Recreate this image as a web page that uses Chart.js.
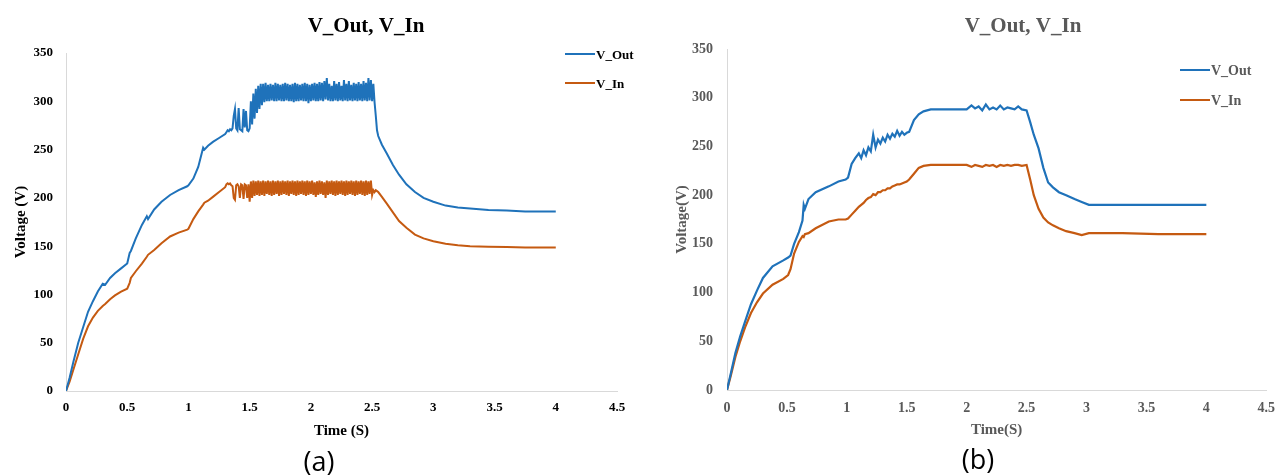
<!DOCTYPE html>
<html>
<head>
<meta charset="utf-8">
<script src="https://cdn.jsdelivr.net/npm/chart.js@4/dist/chart.umd.min.js"></script>
<style>
  body { margin: 0; background: #fff; width: 1285px; height: 476px; overflow: hidden; position: relative; }
  .panel { position: absolute; top: 0; height: 476px; }
  #pa { left: 0; width: 645px; }
  #pb { left: 645px; width: 640px; }
</style>
</head>
<body>
<div class="panel" id="pa"><canvas id="chartA"></canvas></div>
<div class="panel" id="pb"><canvas id="chartB"></canvas></div>
<script>
// ---- panel (a) ----
const tA = [
  0, 0.03, 0.06, 0.1, 0.14, 0.18, 0.22, 0.26, 0.3, 0.32, 0.36, 0.4, 0.45, 0.5, 0.52, 0.53, 0.57,
  0.62, 0.66, 0.67, 0.72, 0.78, 0.85, 0.92, 0.99, 1.0, 1.04, 1.08, 1.12, 1.13, 1.16, 1.2, 1.25, 1.3,
  1.31, 1.32, 1.33, 1.34, 1.35, 1.36, 1.37, 1.38, 1.39, 1.40,
  1.41, 1.42, 1.43, 1.44, 1.45, 1.46, 1.47, 1.48, 1.49, 1.50,
  1.51, 1.52, 1.53, 1.54, 1.55, 1.56, 1.57, 1.58, 1.59, 1.60,
  1.61, 1.62, 1.63, 1.64, 1.65, 1.66, 1.67, 1.68, 1.69, 1.70,
  1.71, 1.72, 1.73, 1.74, 1.75, 1.76, 1.77, 1.78, 1.79, 1.80,
  1.81, 1.82, 1.83, 1.84, 1.85, 1.86, 1.87, 1.88, 1.89, 1.90,
  1.91, 1.92, 1.93, 1.94, 1.95, 1.96, 1.97, 1.98, 1.99, 2.00,
  2.01, 2.02, 2.03, 2.04, 2.05, 2.06, 2.07, 2.08, 2.09, 2.10,
  2.11, 2.12, 2.13, 2.14, 2.15, 2.16, 2.17, 2.18, 2.19, 2.20,
  2.21, 2.22, 2.23, 2.24, 2.25, 2.26, 2.27, 2.28, 2.29, 2.30,
  2.31, 2.32, 2.33, 2.34, 2.35, 2.36, 2.37, 2.38, 2.39, 2.40,
  2.41, 2.42, 2.43, 2.44, 2.45, 2.46, 2.47, 2.48, 2.49, 2.50,
  2.51, 2.52, 2.53, 2.54, 2.55,
  2.58, 2.62, 2.67, 2.72, 2.78, 2.85, 2.92, 3.0, 3.1, 3.2, 3.3, 3.45, 3.6, 3.75, 3.9, 4.0
];
const vOutA = [
  0, 14, 30, 50, 66, 82, 93, 103, 111, 110, 117, 122, 127, 132, 143, 145, 158,
  172, 181, 178, 188, 196, 203, 208, 212, 213, 220, 232, 252, 250, 254, 258, 262, 266,
  268, 270, 269, 271, 270, 272, 285, 292, 272, 270,
  293, 271, 270, 269, 292, 273, 290, 270, 269, 272,
  300, 276, 308, 282, 313, 288, 316, 292, 318, 296,
  318, 299, 319, 300, 317, 300, 318, 301, 317, 300,
  319, 300, 318, 301, 317, 300, 318, 300, 319, 301,
  318, 300, 317, 300, 318, 299, 319, 300, 318, 300,
  317, 301, 318, 300, 319, 300, 318, 298, 317, 300,
  318, 301, 319, 300, 318, 300, 320, 301, 319, 300,
  321, 302, 324, 301, 318, 300, 316, 300, 321, 301,
  318, 300, 320, 301, 316, 300, 322, 301, 318, 300,
  321, 301, 317, 300, 319, 301, 318, 300, 320, 301,
  318, 300, 321, 301, 319, 300, 324, 301, 322, 300,
  318, 299, 285, 270, 264,
  255, 246, 234, 224, 214, 206, 200, 196, 192, 190, 189, 187.5, 187, 186, 186, 186
];
const vInA = [
  0, 10, 22, 38, 54, 67, 76, 83, 88, 90, 95, 99, 103, 106, 112, 117, 124,
  132, 139, 141, 146, 153, 160, 164, 167, 168, 178, 186, 193, 195, 197, 201, 206, 211,
  214, 215, 214, 215, 213, 212, 200, 198, 213, 214,
  212, 200, 214, 213, 199, 214, 213, 200, 214, 196,
  217, 200, 218, 202, 217, 203, 218, 202, 217, 203,
  218, 202, 217, 204, 218, 203, 217, 202, 218, 203,
  217, 204, 218, 202, 217, 203, 218, 204, 217, 203,
  218, 202, 217, 204, 218, 203, 217, 202, 218, 203,
  217, 204, 218, 203, 217, 202, 218, 203, 217, 204,
  218, 203, 216, 201, 217, 203, 218, 204, 217, 203,
  216, 200, 218, 203, 217, 204, 218, 203, 217, 202,
  218, 203, 217, 204, 218, 203, 217, 202, 218, 203,
  217, 204, 218, 203, 217, 202, 218, 203, 217, 204,
  218, 203, 217, 202, 218, 203, 217, 204, 218, 203,
  208, 206, 208, 207, 206,
  201, 194, 185, 176, 169, 162, 158, 155, 152.5, 151, 150, 149.5, 149, 148.7, 148.5, 148.5
];

// ---- panel (b) ----
const tB = [
  0, 0.03, 0.07, 0.11, 0.15, 0.2, 0.25, 0.3, 0.38, 0.47, 0.51, 0.53, 0.56, 0.6, 0.63, 0.64, 0.65,
  0.68, 0.74, 0.85, 0.93, 0.99, 1.01, 1.04, 1.07, 1.1,
  1.12, 1.14, 1.16, 1.18, 1.20, 1.22, 1.24, 1.26, 1.28, 1.30,
  1.32, 1.34, 1.36, 1.38, 1.40, 1.42, 1.44, 1.46, 1.48, 1.50, 1.52,
  1.56, 1.6, 1.64, 1.7, 1.8, 1.9, 2.0,
  2.04, 2.07, 2.1, 2.13, 2.16, 2.19, 2.22, 2.25, 2.28, 2.31,
  2.34, 2.37, 2.4, 2.43, 2.46, 2.5,
  2.53, 2.56, 2.6, 2.64, 2.68, 2.72, 2.77, 2.83, 2.9, 2.96,
  3.02, 3.3, 3.6, 3.8, 4.0
];
const vOutB = [
  0, 16, 38, 55, 70, 88, 102, 115, 127, 133, 136, 138, 150, 162, 174, 190, 186,
  196, 203, 209, 214, 216, 218, 232, 238, 243,
  238, 246, 241, 249, 245, 262, 249, 257, 253, 259,
  255, 262, 258, 263, 260, 266, 261, 265, 262, 264, 265,
  277, 283, 286, 288, 288, 288, 288,
  292, 289, 291, 287, 293, 288, 290, 288, 292, 288,
  290, 289, 288, 291, 288, 287,
  275, 262, 248, 228, 213, 208, 203, 200, 196, 193,
  190, 190, 190, 190, 190
];
const vInB = [
  0, 14, 34, 50, 64, 79, 90, 99, 108, 114, 118, 124, 140, 152, 158, 157, 160,
  161, 166, 173, 175, 175, 176, 180, 184, 188,
  190, 192, 195, 197, 198, 201, 200, 203, 203, 205,
  205, 207, 207, 209, 210, 211, 211, 212, 213, 214, 216,
  222, 228, 230, 231, 231, 231, 231,
  229, 231, 230, 229, 231, 230, 231, 229, 231, 230,
  231, 230, 231, 231, 230, 231,
  216, 200, 186, 177, 172, 169, 166, 163, 161, 159,
  161, 161, 160, 160, 160
];

const seriesNames = ["V_Out", "V_In"];
const titleText = "V_Out, V_In";
const yTitles = ["Voltage (V)", "Voltage(V)"];
const xTitles = ["Time (S)", "Time(S)"];
const captions = ["(a)", "(b)"];

const BLUE = "#1f72ba";
const ORANGE = "#c55a11";
const SERIF = "'Liberation Serif', 'Times New Roman', serif";

// title, legend and caption drawn on top of the chart
const decor = {
  id: "decor",
  afterDraw(chart, args, o) {
    const ctx = chart.ctx;
    ctx.save();
    ctx.textBaseline = "alphabetic";
    ctx.fillStyle = o.color;
    ctx.textAlign = "center";
    ctx.font = "bold 21px " + SERIF;
    ctx.fillText(o.title, o.titleX, o.titleY);

    ctx.textAlign = "left";
    ctx.font = "bold " + o.legendSize + "px " + SERIF;
    chart.data.datasets.forEach((ds, i) => {
      const y = o.legendY[i];
      ctx.strokeStyle = ds.borderColor;
      ctx.lineWidth = 2;
      ctx.beginPath();
      ctx.moveTo(o.legendX, y);
      ctx.lineTo(o.legendX + 30, y);
      ctx.stroke();
      ctx.fillText(ds.label, o.legendX + 31, y + 5);
    });

    ctx.fillStyle = "#000";
    ctx.textAlign = "center";
    ctx.font = "27px 'Open Sans', sans-serif";
    ctx.fillText(o.caption, o.captionX, o.captionY);
    ctx.restore();
  }
};

function makePanel(id, t, out, inn, c) {
  new Chart(document.getElementById(id), {
    type: "line",
    data: {
      datasets: [
        { label: seriesNames[0], data: t.map((x, i) => ({ x, y: out[i] })), borderColor: BLUE, borderWidth: c.lw },
        { label: seriesNames[1], data: t.map((x, i) => ({ x, y: inn[i] })), borderColor: ORANGE, borderWidth: c.lw }
      ]
    },
    options: {
      responsive: true,
      maintainAspectRatio: false,
      animation: false,
      events: [],
      elements: { point: { radius: 0 }, line: { tension: 0 } },
      layout: { padding: { top: c.top, right: c.right, bottom: 0, left: 0 } },
      plugins: {
        legend: { display: false },
        tooltip: { enabled: false },
        decor: c.decor
      },
      scales: {
        x: {
          type: "linear", min: 0, max: 4.5,
          afterFit: s => { s.height = c.xHeight; },
          grid: { display: false, drawTicks: false },
          border: { color: "#d9d9d9", width: 1 },
          ticks: { stepSize: 0.5, padding: c.xPad, color: c.color, callback: v => String(v),
                   font: { family: SERIF, size: c.tick, weight: "bold" } },
          title: { display: true, text: c.xTitle, color: c.color, padding: { top: 0, bottom: c.xTitlePad }, font: { family: SERIF, size: 15, weight: "bold" } }
        },
        y: {
          min: 0, max: 350,
          afterFit: s => { s.width = c.yWidth; },
          grid: { display: false, drawTicks: false },
          border: { color: "#d9d9d9", width: 1 },
          ticks: { stepSize: 50, padding: c.yPad, color: c.color, font: { family: SERIF, size: c.tick, weight: "bold" } },
          title: { display: true, text: c.yTitle, color: c.color, padding: { top: c.yTitlePad, bottom: 0 }, font: { family: SERIF, size: 15, weight: "bold" } }
        }
      }
    },
    plugins: [decor]
  });
}

makePanel("chartA", tA, vOutA, vInA, {
  lw: 2, top: 53, right: 28, xHeight: 85, yWidth: 66, xPad: 9, yPad: 13, tick: 13,
  color: "#000", xTitle: xTitles[0], yTitle: yTitles[0], xTitlePad: 36, yTitlePad: 12,
  decor: {
    color: "#000", title: titleText, titleX: 366, titleY: 32,
    legendX: 565, legendY: [54, 83], legendSize: 13,
    caption: captions[0], captionX: 319, captionY: 471
  }
});

makePanel("chartB", tB, vOutB, vInB, {
  lw: 2.2, top: 49, right: 12, xHeight: 86, yWidth: 82, xPad: 10, yPad: 14, tick: 14,
  color: "#595959", xTitle: xTitles[1], yTitle: yTitles[1], xTitlePad: 37, yTitlePad: 28,
  decor: {
    color: "#595959", title: titleText, titleX: 378, titleY: 32,
    legendX: 535, legendY: [70, 100], legendSize: 14,
    caption: captions[1], captionX: 333, captionY: 469
  }
});
</script>
</body>
</html>
